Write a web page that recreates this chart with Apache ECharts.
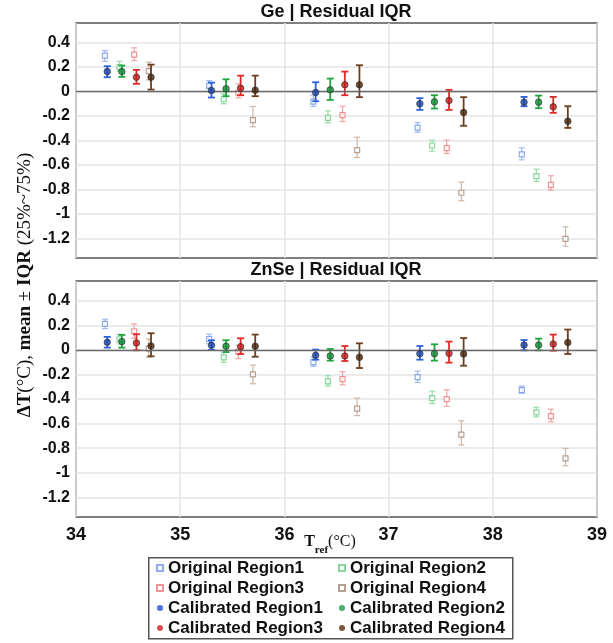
<!DOCTYPE html>
<html>
<head>
<meta charset="utf-8">
<script src="https://cdn.jsdelivr.net/npm/echarts@6/dist/echarts.min.js"></script>
<style>html,body{margin:0;padding:0;background:#fff}#c{width:613px;height:643px}</style>
</head>
<body>
<div id="c"></div>
<script>
// ---- data ----
const tref = [34.3, 35.3, 36.3, 37.3, 38.3];
const regions = ['Region1', 'Region2', 'Region3', 'Region4'];
const yTicks = [-1.2, -1, -0.8, -0.6, -0.4, -0.2, 0, 0.2, 0.4];
const xTicks = [34, 35, 36, 37, 38, 39];

// Ge – original
const geOrigMean = [[0.294, 0.049, -0.082, -0.294, -0.514], [0.20, -0.063, -0.215, -0.441, -0.691], [0.302, -0.01, -0.193, -0.463, -0.762], [0.166, -0.234, -0.479, -0.827, -1.203]];
const geOrigQ25  = [[0.247, 0.024, -0.122, -0.332, -0.558], [0.166, -0.10, -0.256, -0.487, -0.735], [0.253, -0.052, -0.245, -0.506, -0.805], [0.095, -0.288, -0.539, -0.892, -1.263]];
const geOrigQ75  = [[0.335, 0.09, -0.03, -0.253, -0.46], [0.247, -0.019, -0.158, -0.397, -0.634], [0.357, 0.063, -0.12, -0.397, -0.688], [0.24, -0.122, -0.373, -0.74, -1.105]];
// Ge – calibrated
const geCalMean = [[0.163, 0.008, -0.008, -0.10, -0.087], [0.163, 0.022, 0.014, -0.084, -0.087], [0.117, 0.027, 0.055, -0.073, -0.125], [0.117, 0.011, 0.055, -0.171, -0.242]];
const geCalQ25  = [[0.117, -0.049, -0.079, -0.15, -0.12], [0.12, -0.038, -0.068, -0.139, -0.136], [0.063, -0.03, -0.03, -0.15, -0.174], [0.016, -0.038, -0.046, -0.28, -0.297]];
const geCalQ75  = [[0.207, 0.073, 0.076, -0.054, -0.044], [0.212, 0.10, 0.106, -0.03, -0.033], [0.177, 0.13, 0.163, 0.014, -0.044], [0.22, 0.13, 0.215, -0.046, -0.12]];
// ZnSe – original
const znOrigMean = [[0.211, 0.088, -0.10, -0.222, -0.328], [0.086, -0.061, -0.257, -0.393, -0.508], [0.151, -0.015, -0.238, -0.401, -0.54], [0.01, -0.20, -0.478, -0.69, -0.883]];
const znOrigQ25  = [[0.173, 0.05, -0.135, -0.265, -0.352], [0.048, -0.102, -0.295, -0.437, -0.545], [0.094, -0.072, -0.284, -0.459, -0.586], [-0.059, -0.276, -0.535, -0.774, -0.943]];
const znOrigQ75  = [[0.249, 0.127, -0.059, -0.173, -0.295], [0.127, -0.02, -0.211, -0.336, -0.467], [0.211, 0.037, -0.178, -0.325, -0.483], [0.088, -0.124, -0.393, -0.578, -0.802]];
// ZnSe – calibrated
const znCalMean = [[0.061, 0.037, -0.045, -0.031, 0.039], [0.067, 0.029, -0.05, -0.031, 0.039], [0.056, 0.026, -0.05, -0.029, 0.047], [0.031, 0.029, -0.061, -0.034, 0.059]];
const znCalQ25  = [[0.018, 0.0, -0.08, -0.08, -0.004], [0.018, -0.018, -0.088, -0.088, -0.004], [-0.004, -0.034, -0.091, -0.104, -0.007], [-0.053, -0.056, -0.148, -0.129, -0.034]];
const znCalQ75  = [[0.105, 0.078, 0.002, 0.031, 0.08], [0.121, 0.078, 0.007, 0.045, 0.091], [0.127, 0.094, 0.031, 0.067, 0.124], [0.135, 0.124, 0.053, 0.096, 0.165]];

// ---- styles ----
const calBar   = ['#2f62d8', '#1fa53f', '#e02a2a', '#6e3f1e'];
const calFill  = ['#1c44a8', '#138a35', '#c21d1d', '#4a2508'];
const calLegend = ['#2153cc', '#1b9a3c', '#d02424', '#5a2c0c'];
const origBar  = ['#a3bbf0', '#9adca9', '#f2a5a5', '#ccb7a8'];
const origEdge = ['#6f93e6', '#6ccc83', '#ec7b7b', '#a88a76'];
const regionDodge = 0.14, origShift = -0.022;
const SANS = 'Liberation Sans, Arial, sans-serif';
const SERIF = 'Liberation Serif, Times New Roman, serif';

function errRender(capHalf, lw, color) {
  return function (params, api) {
    const x = api.value(0), lo = api.value(1), hi = api.value(2);
    const a = api.coord([x, lo]), b = api.coord([x, hi]);
    const st = { stroke: color, lineWidth: lw };
    return { type: 'group', children: [
      { type: 'line', shape: { x1: a[0], y1: a[1], x2: b[0], y2: b[1] }, style: st },
      { type: 'line', shape: { x1: a[0] - capHalf, y1: a[1], x2: a[0] + capHalf, y2: a[1] }, style: st },
      { type: 'line', shape: { x1: b[0] - capHalf, y1: b[1], x2: b[0] + capHalf, y2: b[1] }, style: st }
    ]};
  };
}

const series = [];
function addPanel(idx, origMean, origQ25, origQ75, calMean, calQ25, calQ75) {
  for (let r = 0; r < 4; r++) {
    const xs = tref.map(t => t + r * regionDodge + origShift);
    series.push({ type: 'custom', xAxisIndex: idx, yAxisIndex: idx, silent: true, z: 2,
      renderItem: errRender(3, 1.2, origBar[r]),
      encode: { x: 0, y: [1, 2] },
      data: xs.map((x, i) => [x, origQ25[r][i], origQ75[r][i]]) });
    series.push({ type: 'scatter', name: 'Original ' + regions[r], xAxisIndex: idx, yAxisIndex: idx, z: 3,
      symbol: 'rect', symbolSize: 5,
      itemStyle: { color: '#ffffff', borderColor: origEdge[r], borderWidth: 1.2 },
      data: xs.map((x, i) => [x, origMean[r][i]]) });
  }
  for (let r = 0; r < 4; r++) {
    const xs = tref.map(t => t + r * regionDodge);
    series.push({ type: 'custom', xAxisIndex: idx, yAxisIndex: idx, silent: true, z: 4,
      renderItem: errRender(3.5, 1.8, calBar[r]),
      encode: { x: 0, y: [1, 2] },
      data: xs.map((x, i) => [x, calQ25[r][i], calQ75[r][i]]) });
    const s = { type: 'scatter', name: 'Calibrated ' + regions[r], xAxisIndex: idx, yAxisIndex: idx, z: 5,
      symbol: 'circle', symbolSize: 6.5,
      itemStyle: { color: calFill[r], borderColor: '#2a2a2a', borderWidth: 0.8 },
      data: xs.map((x, i) => [x, calMean[r][i]]) };
    if (r === 0) {
      s.markLine = { silent: true, symbol: 'none', label: { show: false },
        lineStyle: { color: '#6b6b6b', width: 1.3, type: 'solid' }, data: [{ yAxis: 0 }] };
    }
    series.push(s);
  }
}
addPanel(0, geOrigMean, geOrigQ25, geOrigQ75, geCalMean, geCalQ25, geCalQ75);
addPanel(1, znOrigMean, znOrigQ25, znOrigQ75, znCalMean, znCalQ25, znCalQ75);

function xAxisDef(idx, showLabels) {
  return { type: 'value', gridIndex: idx, min: 34, max: 39, interval: 1,
    axisLine: { show: false }, axisTick: { show: false },
    axisLabel: { show: showLabels, margin: 9, color: '#111', fontFamily: SANS, fontWeight: 'bold', fontSize: 18 },
    splitLine: { show: true, lineStyle: { color: '#e4e4e4', width: 1.5 } } };
}
function yAxisDef(idx) {
  return { type: 'value', gridIndex: idx, min: -1.36, max: 0.56,
    axisLine: { show: false },
    axisTick: { show: false, customValues: yTicks },
    axisLabel: { customValues: yTicks, margin: 6, color: '#111', fontFamily: SANS, fontWeight: 'bold', fontSize: 16 },
    splitLine: { show: true, lineStyle: { color: '#e4e4e4', width: 1.5 } } };
}

function legItem(name) {
  if (name.indexOf('Calibrated') === 0) {
    const r = regions.indexOf(name.split(' ')[1]);
    return { name: name, itemStyle: { color: calLegend[r], borderWidth: 0 } };
  }
  return { name: name };
}

const legendText = { fontFamily: SANS, fontWeight: 'bold', fontSize: 17, color: '#111', lineHeight: 20 };
const option = {
  backgroundColor: '#ffffff',
  animation: false,
  title: [
    { text: 'Ge | Residual IQR', left: 336, top: 3, padding: 0, textAlign: 'center',
      textStyle: { fontFamily: SANS, fontWeight: 'bold', fontSize: 18, color: '#111' } },
    { text: 'ZnSe | Residual IQR', left: 336, top: 261, padding: 0, textAlign: 'center',
      textStyle: { fontFamily: SANS, fontWeight: 'bold', fontSize: 18, color: '#111' } }
  ],
  grid: [
    { left: 76, top: 23, width: 521, height: 235, show: true, borderColor: '#555', borderWidth: 1.5, backgroundColor: 'transparent' },
    { left: 76, top: 281, width: 521, height: 236, show: true, borderColor: '#555', borderWidth: 1.5, backgroundColor: 'transparent' }
  ],
  xAxis: [xAxisDef(0, false), xAxisDef(1, true)],
  yAxis: [yAxisDef(0), yAxisDef(1)],
  legend: [
    { orient: 'vertical', left: 156, top: 558, padding: 0, itemGap: 0, itemWidth: 6, itemHeight: 6,
      textStyle: legendText, selectedMode: false,
      data: ['Original Region1', 'Original Region3', 'Calibrated Region1', 'Calibrated Region3'].map(legItem) },
    { orient: 'vertical', left: 338, top: 558, padding: 0, itemGap: 0, itemWidth: 6, itemHeight: 6,
      textStyle: legendText, selectedMode: false,
      data: ['Original Region2', 'Original Region4', 'Calibrated Region2', 'Calibrated Region4'].map(legItem) }
  ],
  graphic: [
    { type: 'rect', left: 148, top: 557, z: -1, shape: { width: 364, height: 81 },
      style: { fill: '#fff', stroke: '#555', lineWidth: 1.5 } },
    { type: 'text', x: 330, y: 534, style: {
        text: '{b|T}{s|ref}{r|(°C)}', align: 'center', verticalAlign: 'top',
        rich: {
          b: { fontFamily: SERIF, fontWeight: 'bold', fontSize: 16, lineHeight: 22, verticalAlign: 'top', fill: '#111' },
          s: { fontFamily: SERIF, fontWeight: 'bold', fontSize: 11, lineHeight: 22, verticalAlign: 'bottom', fill: '#111' },
          r: { fontFamily: SERIF, fontSize: 16, lineHeight: 22, verticalAlign: 'top', fill: '#111' }
        } } },
    { type: 'text', x: 25, y: 285, rotation: Math.PI / 2, style: {
        text: '{b|ΔT}{r|(°C), }{b|mean}{r| ± }{b|IQR}{r| (25%~75%)}', align: 'center', verticalAlign: 'middle',
        rich: {
          b: { fontFamily: SERIF, fontWeight: 'bold', fontSize: 19, fill: '#111' },
          r: { fontFamily: SERIF, fontSize: 19, fill: '#111' }
        } } }
  ],
  series: series
};
const chart = echarts.init(document.getElementById('c'), null, { renderer: 'canvas' });
chart.setOption(option);
</script>
</body>
</html>
